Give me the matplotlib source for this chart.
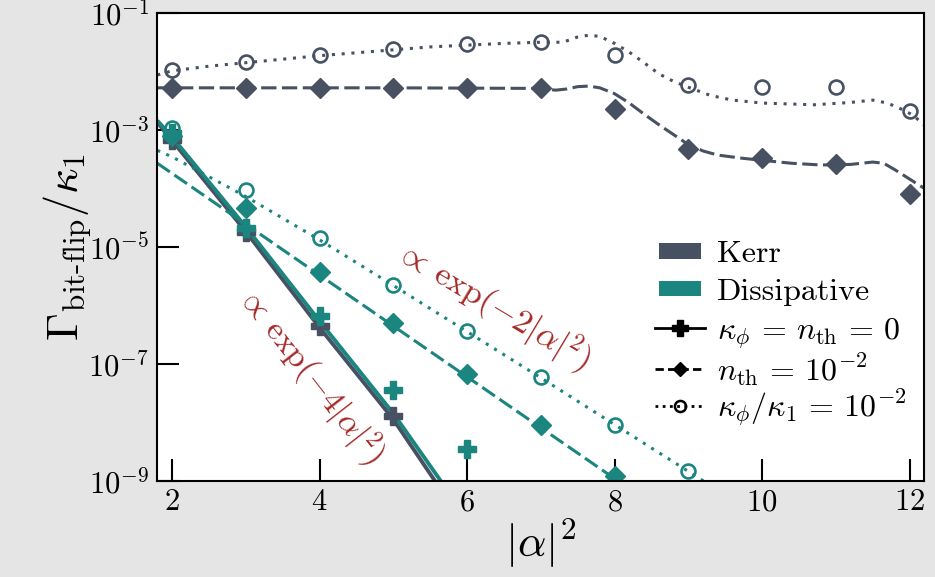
import numpy as np
import matplotlib
matplotlib.use('Agg')
import matplotlib.pyplot as plt
from matplotlib.lines import Line2D
from matplotlib.patches import Rectangle
from matplotlib.legend_handler import HandlerPatch

plt.rcParams['mathtext.fontset'] = 'cm'
plt.rcParams['font.family'] = ['cmr10', 'DejaVu Serif']
plt.rcParams['axes.unicode_minus'] = False

KERR = '#475162'
DISS = '#1b857f'
RED = '#a52a2a'
BG = '#e5e5e5'

# ---------------- data (markers) ----------------
kerr_clean_x = [2, 3, 4, 5]
kerr_clean_y = [6.8e-4, 1.8e-5, 4.4e-7, 1.26e-8]
diss_clean_x = [2, 3, 4, 5, 6]
diss_clean_y = [8.9e-4, 2.1e-5, 6.5e-7, 3.6e-8, 3.5e-9]

kerr_nth_x = [2, 3, 4, 5, 6, 7, 8, 9, 10, 11, 12]
kerr_nth_y = [5.2e-3, 5.2e-3, 5.2e-3, 5.2e-3, 5.2e-3, 5.2e-3, 2.3e-3, 4.7e-4, 3.3e-4, 2.6e-4, 7.9e-5]
diss_nth_x = [2, 3, 4, 5, 6, 7, 8]
diss_nth_y = [7.9e-4, 4.6e-5, 3.7e-6, 4.9e-7, 6.6e-8, 9.1e-9, 1.2e-9]

kerr_deph_x = [2, 3, 4, 5, 6, 7, 8, 9, 10, 11, 12]
kerr_deph_y = [1.05e-2, 1.45e-2, 1.9e-2, 2.4e-2, 2.95e-2, 3.2e-2, 1.9e-2, 5.9e-3, 5.4e-3, 5.4e-3, 2.1e-3]
diss_deph_x = [2, 3, 4, 5, 6, 7, 8, 9]
diss_deph_y = [1.07e-3, 9.3e-5, 1.4e-5, 2.2e-6, 3.7e-7, 5.9e-8, 9.1e-9, 1.45e-9]

# ---------------- data (curves, log10 values) ----------------
kerr_clean_line_x = [1.8, 2, 3, 4, 5, 5.6]
kerr_clean_line_log = [-2.87, -3.18, -4.74, -6.38, -7.95, -9.07]
diss_clean_line_x = [1.8, 2, 3, 4, 5, 5.68]
diss_clean_line_log = [-2.84, -3.12, -4.66, -6.27, -7.85, -9.07]

kerr_nth_line_x = [1.8, 3.0, 5.0, 7.0, 7.2, 7.35, 7.5, 7.65, 7.8, 8.0, 8.2, 8.4, 8.6, 8.8,
                   9.0, 9.2, 9.4, 9.7, 10.0, 10.4, 10.8, 11.2, 11.5, 11.65, 11.8, 12.0, 12.2]
kerr_nth_line_log = [-2.28, -2.28, -2.28, -2.29, -2.32, -2.30, -2.26, -2.25, -2.28, -2.38, -2.54,
                     -2.73, -2.91, -3.08, -3.25, -3.36, -3.43, -3.48, -3.52, -3.57, -3.60, -3.59,
                     -3.55, -3.57, -3.68, -3.84, -4.00]
diss_nth_line_x = [1.8, 8.1]
diss_nth_line_log = [-3.57, -9.05]

kerr_deph_line_x = [1.8, 2.0, 2.5, 3.0, 3.5, 4.0, 4.5, 5.0, 5.5, 6.0, 6.5, 7.0, 7.3, 7.5, 7.65,
                    7.8, 8.0, 8.2, 8.4, 8.6, 8.8, 9.0, 9.3, 9.6, 10.0, 10.7, 11.2, 11.5, 11.7,
                    11.9, 12.05, 12.2]
kerr_deph_line_log = [-2.06, -1.99, -1.91, -1.85, -1.79, -1.73, -1.68, -1.63, -1.58, -1.55, -1.52,
                      -1.50, -1.50, -1.41, -1.38, -1.40, -1.52, -1.67, -1.85, -2.04, -2.17, -2.27,
                      -2.41, -2.49, -2.54, -2.57, -2.53, -2.49, -2.54, -2.65, -2.75, -2.92]
diss_deph_line_x = [1.8, 2, 3, 4, 5, 6, 7, 8, 9, 9.3]
diss_deph_line_log = [-3.35, -3.46, -4.14, -4.88, -5.66, -6.45, -7.24, -8.04, -8.84, -9.08]

xticks = [2, 4, 6, 8, 10, 12]
yticks = [1e-9, 1e-7, 1e-5, 1e-3, 1e-1]
ytick_labels = [r'$10^{-9}$', r'$10^{-7}$', r'$10^{-5}$', r'$10^{-3}$', r'$10^{-1}$']

# ---------------- figure ----------------
W, H = 935, 577
fig = plt.figure(figsize=(W / 100, H / 100), dpi=100, facecolor=BG)
ax = fig.add_axes([157.3 / W, 1 - 480.7 / H, (924.3 - 157.3) / W, (480.7 - 13) / H])
ax.set_facecolor('white')
ax.set_yscale('log')

lw = 2.2
dash = (5, 1.8)
dot = (1, 2.2)

def curve(x, logs):
    return np.asarray(x), 10.0 ** np.asarray(logs)

for col, cl, nl, dl in [
    (KERR, (kerr_clean_line_x, kerr_clean_line_log), (kerr_nth_line_x, kerr_nth_line_log),
     (kerr_deph_line_x, kerr_deph_line_log)),
    (DISS, (diss_clean_line_x, diss_clean_line_log), (diss_nth_line_x, diss_nth_line_log),
     (diss_deph_line_x, diss_deph_line_log)),
]:
    ax.plot(*curve(*cl), color=col, lw=lw + 0.6, ls='-', solid_capstyle='butt')
    ax.plot(*curve(*nl), color=col, lw=lw, ls=(0, dash))
    ax.plot(*curve(*dl), color=col, lw=lw, ls=(0, dot))

for col, (cx, cy), (nx, ny), (dx, dy) in [
    (KERR, (kerr_clean_x, kerr_clean_y), (kerr_nth_x, kerr_nth_y), (kerr_deph_x, kerr_deph_y)),
    (DISS, (diss_clean_x, diss_clean_y), (diss_nth_x, diss_nth_y), (diss_deph_x, diss_deph_y)),
]:
    ax.plot(cx, cy, ls='none', marker='P', ms=13, color=col, mec=col)
    ax.plot(nx, ny, ls='none', marker='D', ms=10.5, color=col, mec=col)
    ax.plot(dx, dy, ls='none', marker='o', ms=10, mfc='none', mec=col, mew=1.9)

ax.set_xlim(1.8, 12.2)
ax.set_ylim(1e-9, 1e-1)
ax.set_xticks(xticks)
ax.set_xticklabels([r'$%d$' % t for t in xticks])
ax.set_yticks(yticks)
ax.set_yticklabels(ytick_labels)
ax.minorticks_off()
ax.tick_params(direction='in', length=16, width=1.5, labelsize=22, pad=6, color='black')
for s in ax.spines.values():
    s.set_linewidth(1.5)
    s.set_color('black')

ax.set_xlabel(r'$|\alpha|^2$', fontsize=32, labelpad=0)
ax.set_ylabel(r'$\Gamma_{\text{bit-flip}}/\kappa_1$', fontsize=32, labelpad=-4)

ax.text(3.87, 10 ** -7.2, r'$\propto\,\exp(-4|\alpha|^2)$', color=RED, fontsize=24,
        rotation=-52, ha='center', va='center', rotation_mode='anchor')
ax.text(6.36, 10 ** -6.0, r'$\propto\,\exp(-2|\alpha|^2)$', color=RED, fontsize=24.5,
        rotation=-31, ha='center', va='center', rotation_mode='anchor')


class InsetPatchHandler(HandlerPatch):
    def create_artists(self, legend, orig_handle, xdescent, ydescent, width, height,
                       fontsize, trans):
        inset = 0.08 * width
        h = 0.68 * height
        p = Rectangle((-xdescent + inset, -ydescent + (height - h) / 2), width - 2 * inset, h,
                      facecolor=orig_handle.get_facecolor(), edgecolor='none')
        p.set_transform(trans)
        return [p]


patch_handles = [
    Rectangle((0, 0), 1, 1, facecolor=KERR),
    Rectangle((0, 0), 1, 1, facecolor=DISS),
]
patch_labels = ['Kerr', 'Dissipative']
line_handles = [
    Line2D([], [], color='black', lw=2, ls='-', marker='P', ms=11),
    Line2D([], [], color='black', lw=2, ls=(0, (3, 1.5)), marker='D', ms=7),
    Line2D([], [], color='black', lw=2, ls=(0, (1, 1.6)), marker='o', ms=8, mfc='none', mew=1.8),
]
line_labels = [r'$\kappa_\phi \,=\, n_{\mathrm{th}} \,=\, 0$',
               r'$n_{\mathrm{th}} \,=\, 10^{-2}$', r'$\kappa_\phi/\kappa_1 \,=\, 10^{-2}$']

common = dict(loc='upper left', frameon=False, fontsize=23, handlelength=1.55,
              handletextpad=0.4, borderpad=0, borderaxespad=0)
leg1 = ax.legend(patch_handles, patch_labels, bbox_to_anchor=(0.649, 0.515),
                 labelspacing=0.28, handler_map={Rectangle: InsetPatchHandler()}, **common)
ax.add_artist(leg1)
leg2 = ax.legend(line_handles, line_labels, bbox_to_anchor=(0.649, 0.351),
                 labelspacing=0.0, **common)

fig.savefig('out.png', dpi=100, facecolor=BG)
